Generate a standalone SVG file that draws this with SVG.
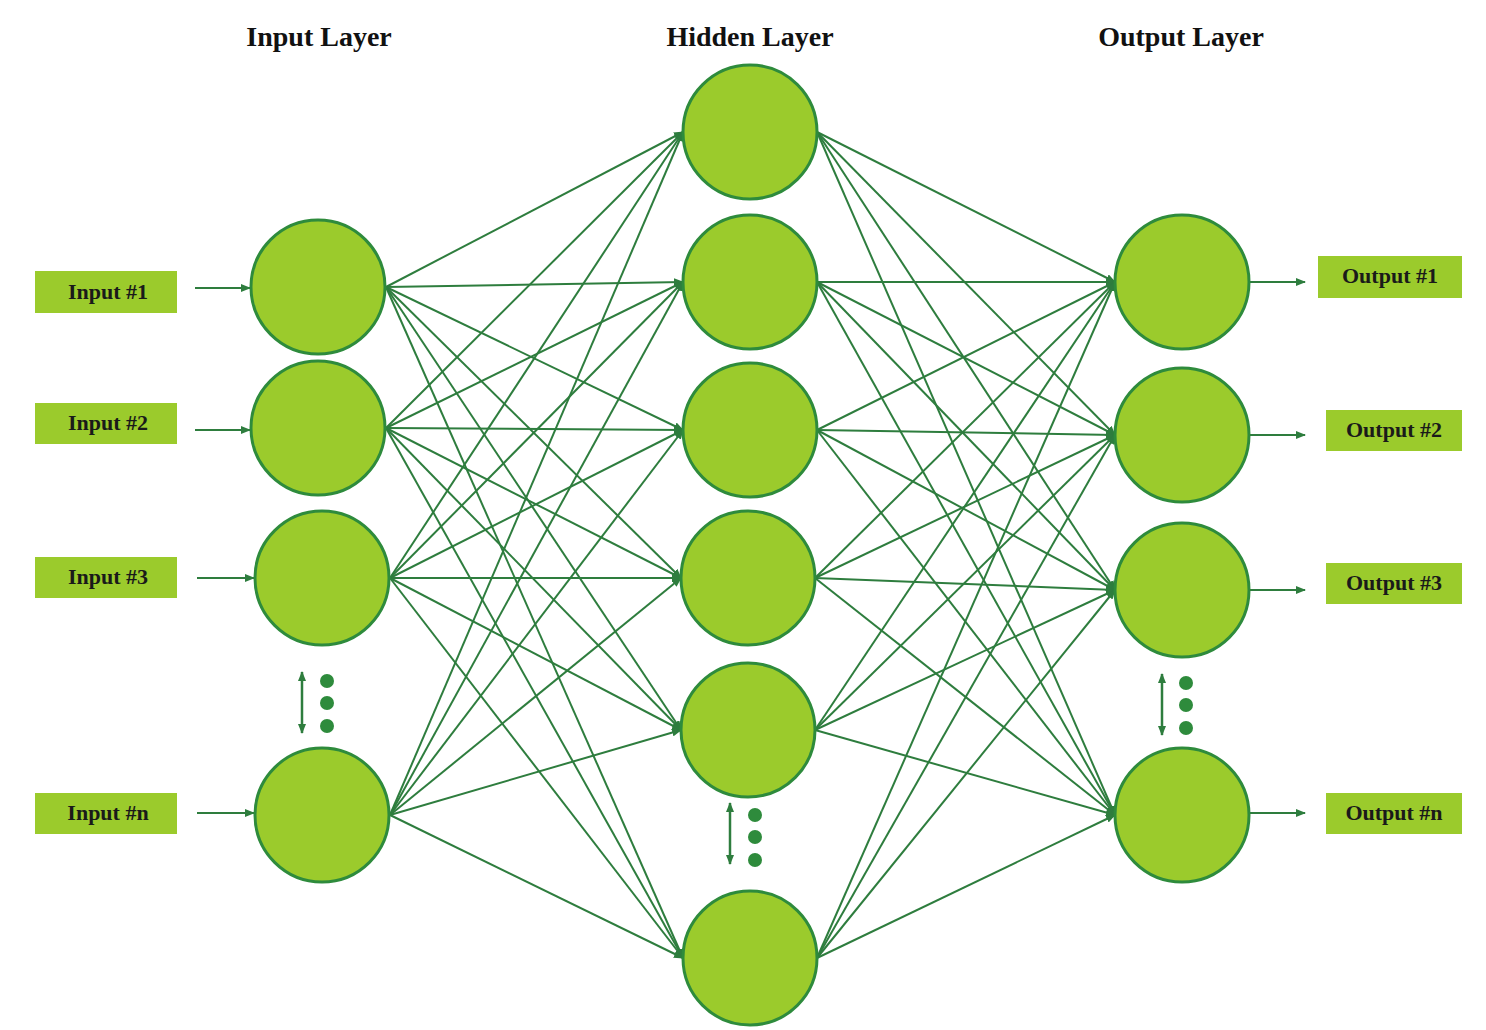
<svg xmlns="http://www.w3.org/2000/svg" width="1486" height="1030" viewBox="0 0 1486 1030">
<style>
.n{fill:#9bcb2c;stroke:#2e8b3c;stroke-width:3}
.b{fill:#9bcb2c}
.t{font-family:"Liberation Serif",serif;font-weight:bold;font-size:22px;fill:#1a1a1a;text-anchor:middle}
.h{font-family:"Liberation Serif",serif;font-weight:bold;font-size:28px;fill:#111;text-anchor:middle}
.c line{stroke:#2e7d3e;stroke-width:2;marker-end:url(#a)}
.d{fill:#2e8b3c}
.s{stroke:#2e7d3e;stroke-width:2.5;marker-end:url(#a);marker-start:url(#a2)}
</style>
<defs>
<marker id="a" markerWidth="10" markerHeight="8" refX="9" refY="4" orient="auto" markerUnits="userSpaceOnUse"><path d="M0,0L10,4L0,8z" fill="#2e7d3e"/></marker>
<marker id="a2" markerWidth="10" markerHeight="8" refX="1" refY="4" orient="auto" markerUnits="userSpaceOnUse"><path d="M10,0L0,4L10,8z" fill="#2e7d3e"/></marker>
</defs>
<rect width="1486" height="1030" fill="#fff"/>
<text class="h" x="319" y="46">Input Layer</text>
<text class="h" x="750" y="46">Hidden Layer</text>
<text class="h" x="1181" y="46">Output Layer</text>
<g class="c" id="connectors">
<line x1="195" y1="288" x2="250" y2="288"/>
<line x1="195" y1="430" x2="250" y2="430"/>
<line x1="197" y1="578" x2="254" y2="578"/>
<line x1="197" y1="813" x2="254" y2="813"/>
<line x1="1250" y1="282" x2="1305" y2="282"/>
<line x1="1250" y1="435" x2="1305" y2="435"/>
<line x1="1250" y1="590" x2="1305" y2="590"/>
<line x1="1250" y1="813" x2="1305" y2="813"/>
<!-- input to hidden -->
<line x1="386" y1="287" x2="683" y2="132"/><line x1="386" y1="287" x2="683" y2="282"/><line x1="386" y1="287" x2="683" y2="430"/><line x1="386" y1="287" x2="681" y2="578"/><line x1="386" y1="287" x2="681" y2="730"/><line x1="386" y1="287" x2="683" y2="958"/>
<line x1="386" y1="428" x2="683" y2="132"/><line x1="386" y1="428" x2="683" y2="282"/><line x1="386" y1="428" x2="683" y2="430"/><line x1="386" y1="428" x2="681" y2="578"/><line x1="386" y1="428" x2="681" y2="730"/><line x1="386" y1="428" x2="683" y2="958"/>
<line x1="390" y1="578" x2="683" y2="132"/><line x1="390" y1="578" x2="683" y2="282"/><line x1="390" y1="578" x2="683" y2="430"/><line x1="390" y1="578" x2="681" y2="578"/><line x1="390" y1="578" x2="681" y2="730"/><line x1="390" y1="578" x2="683" y2="958"/>
<line x1="390" y1="815" x2="683" y2="132"/><line x1="390" y1="815" x2="683" y2="282"/><line x1="390" y1="815" x2="683" y2="430"/><line x1="390" y1="815" x2="681" y2="578"/><line x1="390" y1="815" x2="681" y2="730"/><line x1="390" y1="815" x2="683" y2="958"/>
<!-- hidden to output -->
<line x1="817" y1="132" x2="1115" y2="282"/><line x1="817" y1="132" x2="1115" y2="435"/><line x1="817" y1="132" x2="1115" y2="590"/><line x1="817" y1="132" x2="1115" y2="815"/>
<line x1="817" y1="282" x2="1115" y2="282"/><line x1="817" y1="282" x2="1115" y2="435"/><line x1="817" y1="282" x2="1115" y2="590"/><line x1="817" y1="282" x2="1115" y2="815"/>
<line x1="817" y1="430" x2="1115" y2="282"/><line x1="817" y1="430" x2="1115" y2="435"/><line x1="817" y1="430" x2="1115" y2="590"/><line x1="817" y1="430" x2="1115" y2="815"/>
<line x1="815" y1="578" x2="1115" y2="282"/><line x1="815" y1="578" x2="1115" y2="435"/><line x1="815" y1="578" x2="1115" y2="590"/><line x1="815" y1="578" x2="1115" y2="815"/>
<line x1="815" y1="730" x2="1115" y2="282"/><line x1="815" y1="730" x2="1115" y2="435"/><line x1="815" y1="730" x2="1115" y2="590"/><line x1="815" y1="730" x2="1115" y2="815"/>
<line x1="817" y1="958" x2="1115" y2="282"/><line x1="817" y1="958" x2="1115" y2="435"/><line x1="817" y1="958" x2="1115" y2="590"/><line x1="817" y1="958" x2="1115" y2="815"/>
</g>
<g id="inputs">
<g id="in1"><rect class="b" x="35" y="271" width="142" height="42"/><text class="t" x="108" y="299">Input #1</text></g>
<g id="in2"><rect class="b" x="35" y="403" width="142" height="41"/><text class="t" x="108" y="430">Input #2</text></g>
<g id="in3"><rect class="b" x="35" y="557" width="142" height="41"/><text class="t" x="108" y="584">Input #3</text></g>
<g id="inn"><rect class="b" x="35" y="793" width="142" height="41"/><text class="t" x="108" y="820">Input #n</text></g>
<g id="out1"><rect class="b" x="1318" y="256" width="144" height="42"/><text class="t" x="1390" y="283">Output #1</text></g>
<g id="out2"><rect class="b" x="1326" y="410" width="136" height="41"/><text class="t" x="1394" y="437">Output #2</text></g>
<g id="out3"><rect class="b" x="1326" y="563" width="136" height="41"/><text class="t" x="1394" y="590">Output #3</text></g>
<g id="outn"><rect class="b" x="1326" y="793" width="136" height="41"/><text class="t" x="1394" y="820">Output #n</text></g>
</g>
<g id="nodes">
<circle id="i1" class="n" cx="318" cy="287" r="67"/>
<circle id="i2" class="n" cx="318" cy="428" r="67"/>
<circle id="i3" class="n" cx="322" cy="578" r="67"/>
<circle id="i4" class="n" cx="322" cy="815" r="67"/>
<circle id="h1" class="n" cx="750" cy="132" r="67"/>
<circle id="h2" class="n" cx="750" cy="282" r="67"/>
<circle id="h3" class="n" cx="750" cy="430" r="67"/>
<circle id="h4" class="n" cx="748" cy="578" r="67"/>
<circle id="h5" class="n" cx="748" cy="730" r="67"/>
<circle id="h6" class="n" cx="750" cy="958" r="67"/>
<circle id="o1" class="n" cx="1182" cy="282" r="67"/>
<circle id="o2" class="n" cx="1182" cy="435" r="67"/>
<circle id="o3" class="n" cx="1182" cy="590" r="67"/>
<circle id="o4" class="n" cx="1182" cy="815" r="67"/>
</g>
<g id="ellipses">
<circle class="d" cx="327" cy="681" r="7"/><circle class="d" cx="327" cy="703" r="7"/><circle class="d" cx="327" cy="726" r="7"/>
<line class="s" x1="302" y1="672" x2="302" y2="733"/>
<circle class="d" cx="755" cy="815" r="7"/><circle class="d" cx="755" cy="837" r="7"/><circle class="d" cx="755" cy="860" r="7"/>
<line class="s" x1="730" y1="803" x2="730" y2="864"/>
<circle class="d" cx="1186" cy="683" r="7"/><circle class="d" cx="1186" cy="705" r="7"/><circle class="d" cx="1186" cy="728" r="7"/>
<line class="s" x1="1162" y1="674" x2="1162" y2="735"/>
</g>
</svg>
